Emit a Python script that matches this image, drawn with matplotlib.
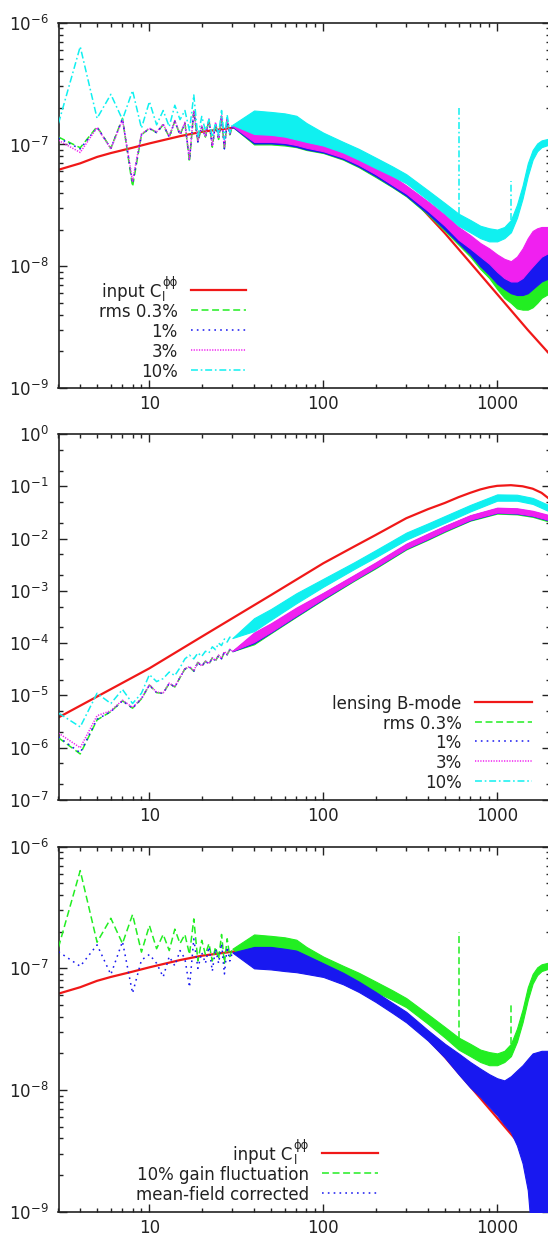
import numpy as np
import matplotlib
matplotlib.use('Agg')
import matplotlib.pyplot as plt
from matplotlib.ticker import FixedLocator, NullFormatter, FuncFormatter

plt.rcParams['font.family'] = ['DejaVu Sans']
plt.rcParams['mathtext.fontset'] = 'dejavusans'
plt.rcParams['lines.scale_dashes'] = False

# ---------------- data: panel 1 (lensing potential, gain rms) ----------------
ell_theory = [3, 4, 5, 6, 8, 10, 15, 20, 30, 40, 60, 80, 100, 150, 200, 300, 500, 700, 1000, 1500, 2000]
clpp_input = [6.2e-8, 7.0e-8, 7.9e-8, 8.5e-8, 9.4e-8, 1.02e-7, 1.17e-7, 1.27e-7, 1.37e-7, 1.42e-7,
              1.36e-7, 1.2e-7, 1.03e-7, 8.0e-8, 6.2e-8, 4.1e-8, 1.87e-8, 1.07e-8, 5.9e-9, 3.0e-9, 1.9e-9]

ell_low = list(range(3, 31))
p1_rms03_low = [1.15e-7, 9.4e-8, 1.4e-7, 9.3e-8, 1.64e-7, 4.5e-8, 1.2e-7, 1.36e-7, 1.25e-7, 1.45e-7,
                1.15e-7, 1.55e-7, 1.2e-7, 1.5e-7, 7.2e-8, 1.9e-7, 1.05e-7, 1.4e-7, 1.15e-7, 1.6e-7,
                9.5e-8, 1.5e-7, 1.1e-7, 1.7e-7, 9.0e-8, 1.6e-7, 1.2e-7, 1.4e-7]
p1_rms1_low = [1.13e-7, 9.2e-8, 1.38e-7, 9.3e-8, 1.62e-7, 4.8e-8, 1.2e-7, 1.35e-7, 1.25e-7, 1.45e-7,
               1.15e-7, 1.55e-7, 1.2e-7, 1.5e-7, 7.4e-8, 1.88e-7, 1.05e-7, 1.4e-7, 1.15e-7, 1.6e-7,
               9.5e-8, 1.5e-7, 1.1e-7, 1.7e-7, 9.2e-8, 1.6e-7, 1.2e-7, 1.4e-7]
p1_rms3_low = [1.08e-7, 8.6e-8, 1.38e-7, 9.2e-8, 1.6e-7, 5.0e-8, 1.22e-7, 1.36e-7, 1.27e-7, 1.47e-7,
               1.17e-7, 1.57e-7, 1.22e-7, 1.52e-7, 7.6e-8, 1.9e-7, 1.07e-7, 1.42e-7, 1.17e-7, 1.62e-7,
               9.7e-8, 1.52e-7, 1.12e-7, 1.72e-7, 9.4e-8, 1.62e-7, 1.22e-7, 1.42e-7]
p1_rms10_low = [1.49e-7, 6.36e-7, 1.64e-7, 2.58e-7, 1.6e-7, 2.77e-7, 1.36e-7, 2.25e-7, 1.45e-7, 1.9e-7,
                1.4e-7, 2.1e-7, 1.6e-7, 1.9e-7, 1.3e-7, 2.55e-7, 1.15e-7, 1.7e-7, 1.3e-7, 1.6e-7,
                1.15e-7, 1.5e-7, 1.2e-7, 1.9e-7, 1.1e-7, 1.75e-7, 1.25e-7, 1.45e-7]

ell_band = [30, 40, 50, 60, 70, 80, 100, 130, 160, 200, 250, 300, 400, 500, 600, 700, 800, 900,
            1000, 1100, 1200, 1300, 1400, 1500, 1600, 1700, 1800, 2000]
p1_rms03_lo = [1.4e-7, 1.0e-7, 1.0e-7, 9.8e-8, 9.5e-8, 9.0e-8, 8.5e-8, 7.5e-8, 6.5e-8, 5.4e-8, 4.45e-8, 3.75e-8,
               2.65e-8, 1.95e-8, 1.5e-8, 1.2e-8, 9.5e-9, 8.0e-9, 6.5e-9, 5.5e-9, 5.0e-9, 4.5e-9, 4.4e-9,
               4.4e-9, 4.6e-9, 5.0e-9, 5.5e-9, 6.0e-9]
p1_rms03_hi = [1.4e-7, 1.65e-7, 1.65e-7, 1.6e-7, 1.5e-7, 1.35e-7, 1.14e-7, 9.3e-8, 7.9e-8, 6.5e-8, 5.3e-8, 4.4e-8,
               3.15e-8, 2.4e-8, 1.95e-8, 1.6e-8, 1.35e-8, 1.2e-8, 1.05e-8, 9.5e-9, 9.0e-9, 9.5e-9, 1.05e-8,
               1.15e-8, 1.3e-8, 1.4e-8, 1.5e-8, 1.6e-8]
p1_rms1_lo = [1.4e-7, 1.02e-7, 1.02e-7, 1.0e-7, 9.6e-8, 9.1e-8, 8.6e-8, 7.6e-8, 6.6e-8, 5.5e-8, 4.5e-8, 3.8e-8,
              2.7e-8, 2.0e-8, 1.55e-8, 1.25e-8, 1.0e-8, 8.5e-9, 7.2e-9, 6.5e-9, 6.0e-9, 5.8e-9, 5.8e-9,
              6.0e-9, 6.5e-9, 7.0e-9, 7.5e-9, 8.0e-9]
p1_rms1_hi = [1.4e-7, 1.6e-7, 1.6e-7, 1.55e-7, 1.48e-7, 1.33e-7, 1.13e-7, 9.3e-8, 7.9e-8, 6.5e-8, 5.3e-8, 4.4e-8,
              3.2e-8, 2.45e-8, 2.0e-8, 1.7e-8, 1.45e-8, 1.3e-8, 1.15e-8, 1.05e-8, 1.0e-8, 1.1e-8, 1.2e-8,
              1.35e-8, 1.5e-8, 1.6e-8, 1.65e-8, 1.7e-8]
p1_rms3_lo = [1.42e-7, 1.05e-7, 1.05e-7, 1.03e-7, 9.9e-8, 9.4e-8, 8.8e-8, 7.8e-8, 6.8e-8, 5.7e-8, 4.65e-8, 3.95e-8,
              2.85e-8, 2.15e-8, 1.65e-8, 1.4e-8, 1.2e-8, 1.05e-8, 9.0e-9, 8.0e-9, 7.5e-9, 7.5e-9, 8.0e-9,
              9.0e-9, 1.0e-8, 1.1e-8, 1.2e-8, 1.3e-8]
p1_rms3_hi = [1.42e-7, 1.55e-7, 1.55e-7, 1.52e-7, 1.45e-7, 1.32e-7, 1.14e-7, 9.5e-8, 8.1e-8, 6.7e-8, 5.5e-8, 4.6e-8,
              3.4e-8, 2.65e-8, 2.1e-8, 1.8e-8, 1.55e-8, 1.4e-8, 1.25e-8, 1.15e-8, 1.1e-8, 1.2e-8, 1.4e-8,
              1.7e-8, 1.95e-8, 2.05e-8, 2.1e-8, 2.1e-8]
p1_rms10_lo = [1.45e-7, 1.22e-7, 1.2e-7, 1.16e-7, 1.1e-7, 1.05e-7, 9.8e-8, 8.6e-8, 7.5e-8, 6.4e-8, 5.5e-8, 4.8e-8,
               3.5e-8, 2.7e-8, 2.15e-8, 1.9e-8, 1.7e-8, 1.6e-8, 1.6e-8, 1.7e-8, 1.9e-8, 2.5e-8, 3.6e-8,
               5.5e-8, 7.5e-8, 8.8e-8, 9.5e-8, 1.0e-7]
p1_rms10_hi = [1.45e-7, 1.9e-7, 1.85e-7, 1.8e-7, 1.72e-7, 1.5e-7, 1.25e-7, 1.05e-7, 9.2e-8, 7.8e-8, 6.6e-8, 5.7e-8,
               4.2e-8, 3.3e-8, 2.7e-8, 2.4e-8, 2.15e-8, 2.05e-8, 2.0e-8, 2.1e-8, 2.4e-8, 3.2e-8, 4.6e-8,
               7.0e-8, 9.0e-8, 1.02e-7, 1.08e-7, 1.12e-7]
spike_ell = [600, 1200]
spike_bottom = [2.7e-8, 2.4e-8]
spike_top = [2.0e-7, 5.0e-8]

# ---------------- data: panel 2 (lensing B-mode) ----------------
ell_bb = [3, 5, 10, 20, 50, 100, 150, 200, 300, 400, 500, 600, 700, 800, 900, 1000, 1200, 1400, 1600, 1800, 2000]
clbb_input = [3.8e-6, 9.5e-6, 3.3e-5, 1.33e-4, 8.3e-4, 3.37e-3, 7.0e-3, 1.17e-2, 2.45e-2, 3.65e-2, 4.8e-2,
              6.2e-2, 7.5e-2, 8.7e-2, 9.6e-2, 1.02e-1, 1.05e-1, 1.0e-1, 9.0e-2, 7.5e-2, 5.7e-2]
p2_rms03_low = [1.55e-6, 7.6e-7, 3.4e-6, 4.9e-6, 7.9e-6, 5.7e-6, 8.6e-6, 1.58e-5, 1.13e-5, 1.1e-5,
                1.7e-5, 1.45e-5, 2.2e-5, 3.2e-5, 3.5e-5, 2.9e-5, 4.3e-5, 3.6e-5, 4.5e-5, 4.0e-5,
                5.2e-5, 4.6e-5, 5.8e-5, 5.0e-5, 6.8e-5, 6.0e-5, 7.5e-5, 7.0e-5]
p2_rms1_low = [1.6e-6, 8.0e-7, 3.5e-6, 4.9e-6, 7.9e-6, 5.7e-6, 8.6e-6, 1.58e-5, 1.13e-5, 1.1e-5,
               1.7e-5, 1.45e-5, 2.2e-5, 3.2e-5, 3.5e-5, 2.9e-5, 4.3e-5, 3.6e-5, 4.5e-5, 4.0e-5,
               5.2e-5, 4.6e-5, 5.8e-5, 5.0e-5, 6.8e-5, 6.0e-5, 7.5e-5, 7.0e-5]
p2_rms3_low = [1.9e-6, 1.0e-6, 4.1e-6, 5.1e-6, 8.1e-6, 5.9e-6, 8.8e-6, 1.6e-5, 1.15e-5, 1.12e-5,
               1.72e-5, 1.47e-5, 2.25e-5, 3.25e-5, 3.55e-5, 2.95e-5, 4.35e-5, 3.65e-5, 4.55e-5, 4.05e-5,
               5.25e-5, 4.65e-5, 5.9e-5, 5.1e-5, 6.9e-5, 6.1e-5, 7.6e-5, 7.1e-5]
p2_rms10_low = [4.6e-6, 2.5e-6, 1.1e-5, 7.0e-6, 1.3e-5, 7.0e-6, 1.1e-5, 2.5e-5, 1.84e-5, 2.1e-5,
                2.8e-5, 2.4e-5, 3.4e-5, 5.0e-5, 5.9e-5, 5.0e-5, 6.5e-5, 5.6e-5, 7.0e-5, 6.5e-5,
                8.5e-5, 7.5e-5, 1.0e-4, 9.0e-5, 1.2e-4, 1.05e-4, 1.3e-4, 1.25e-4]
ell_band2 = [30, 40, 50, 70, 100, 150, 200, 300, 400, 500, 700, 1000, 1300, 1600, 2000]
p2_rms03_lo = [7.0e-5, 9.5e-5, 1.55e-4, 3.2e-4, 6.8e-4, 1.55e-3, 2.7e-3, 6.2e-3, 9.5e-3, 1.35e-2, 2.2e-2,
               3.0e-2, 2.9e-2, 2.6e-2, 2.1e-2]
p2_rms03_hi = [7.0e-5, 1.5e-4, 2.25e-4, 4.5e-4, 8.8e-4, 1.9e-3, 3.3e-3, 7.6e-3, 1.2e-2, 1.7e-2, 2.7e-2,
               3.7e-2, 3.6e-2, 3.2e-2, 2.65e-2]
p2_rms1_lo = [7.0e-5, 1.0e-4, 1.6e-4, 3.3e-4, 7.0e-4, 1.6e-3, 2.8e-3, 6.4e-3, 9.8e-3, 1.4e-2, 2.25e-2,
              3.1e-2, 3.0e-2, 2.7e-2, 2.2e-2]
p2_rms1_hi = [7.0e-5, 1.5e-4, 2.3e-4, 4.6e-4, 9.0e-4, 1.95e-3, 3.4e-3, 7.8e-3, 1.22e-2, 1.72e-2, 2.75e-2,
              3.8e-2, 3.7e-2, 3.3e-2, 2.7e-2]
p2_rms3_lo = [7.1e-5, 1.05e-4, 1.65e-4, 3.4e-4, 7.2e-4, 1.62e-3, 2.85e-3, 6.5e-3, 1.0e-2, 1.42e-2, 2.3e-2,
              3.15e-2, 3.05e-2, 2.75e-2, 2.25e-2]
p2_rms3_hi = [7.1e-5, 1.6e-4, 2.4e-4, 4.8e-4, 9.2e-4, 2.0e-3, 3.5e-3, 8.0e-3, 1.25e-2, 1.75e-2, 2.8e-2,
              3.9e-2, 3.8e-2, 3.4e-2, 2.8e-2]
p2_rms10_lo = [1.25e-4, 1.7e-4, 2.8e-4, 5.8e-4, 1.2e-3, 2.6e-3, 4.4e-3, 9.5e-3, 1.45e-2, 2.0e-2, 3.3e-2,
               5.3e-2, 5.3e-2, 4.6e-2, 3.3e-2]
p2_rms10_hi = [1.25e-4, 3.0e-4, 4.5e-4, 9.0e-4, 1.7e-3, 3.5e-3, 6.0e-3, 1.3e-2, 1.95e-2, 2.7e-2, 4.4e-2,
               7.0e-2, 6.9e-2, 6.0e-2, 4.3e-2]

# ---------------- data: panel 3 (mean-field correction) ----------------
p3_gain_lo = [1.45e-7, 1.05e-7, 1.05e-7, 1.03e-7, 1.0e-7, 9.7e-8, 9.3e-8, 8.3e-8, 7.4e-8, 6.4e-8, 5.5e-8, 4.8e-8,
              3.5e-8, 2.7e-8, 2.15e-8, 1.9e-8, 1.7e-8, 1.6e-8, 1.6e-8, 1.7e-8, 1.9e-8, 2.5e-8, 3.6e-8,
              5.5e-8, 7.5e-8, 8.8e-8, 9.5e-8, 1.0e-7]
p3_mf_low = [1.37e-7, 1.04e-7, 1.56e-7, 8.9e-8, 1.66e-7, 6.25e-8, 1.17e-7, 1.3e-7, 1.1e-7, 8.5e-8,
             1.25e-7, 1.05e-7, 1.4e-7, 1.2e-7, 7.0e-8, 1.75e-7, 1.0e-7, 1.35e-7, 1.1e-7, 1.5e-7,
             9.5e-8, 1.45e-7, 1.1e-7, 1.6e-7, 9.0e-8, 1.5e-7, 1.15e-7, 1.35e-7]
p3_mf_lo = [1.35e-7, 1.0e-7, 9.8e-8, 9.5e-8, 9.3e-8, 9.0e-8, 8.5e-8, 7.4e-8, 6.4e-8, 5.3e-8, 4.3e-8, 3.6e-8,
            2.55e-8, 1.85e-8, 1.35e-8, 1.05e-8, 8.8e-9, 7.3e-9, 6.2e-9, 5.2e-9, 4.5e-9, 3.5e-9, 2.5e-9,
            1.5e-9, 5e-10, 3e-10, 3e-10, 3e-10]
p3_mf_hi = [1.35e-7, 1.5e-7, 1.5e-7, 1.45e-7, 1.4e-7, 1.28e-7, 1.1e-7, 9.2e-8, 7.8e-8, 6.4e-8, 5.2e-8, 4.4e-8,
            3.1e-8, 2.4e-8, 2.0e-8, 1.7e-8, 1.5e-8, 1.35e-8, 1.25e-8, 1.2e-8, 1.3e-8, 1.45e-8, 1.6e-8,
            1.8e-8, 2.0e-8, 2.05e-8, 2.1e-8, 2.1e-8]

# ---------------- styles ----------------
RED, GREEN, BLUE, MAGENTA, CYAN = '#f01818', '#22ee22', '#1818f0', '#f020f0', '#10f0f0'
DASH = (5.0, 2.6)
DOT = (1.2, 3.0)
FINEDOT = (0.9, 1.0)
DASHDOT = (5.0, 2.0, 1.2, 2.0)
LW = 1.1
FS = 12
INK = '#222222'

W, H = 548, 1241
fig = plt.figure(figsize=(W / 100, H / 100), dpi=100)

def px_axes(top, bottom, left=58.5, right=549.5):
    return fig.add_axes([left / W, 1 - bottom / H, (right - left) / W, (bottom - top) / H])

ax1 = px_axes(22.7, 388.0)
ax2 = px_axes(434.0, 800.0)
ax3 = px_axes(846.7, 1211.7)

def noisy(ax, ell_l, val_l, ell_b, lo, hi, color, dashes, z):
    ax.fill_between(ell_b, lo, hi, color=color, lw=0.8, edgecolor=color, zorder=z)
    ax.plot(ell_l, val_l, color=color, lw=LW, dashes=dashes, zorder=z + 0.5)

# panel 1
ax1.plot(ell_theory, clpp_input, color=RED, lw=1.6, zorder=2)
noisy(ax1, ell_low, p1_rms03_low, ell_band, p1_rms03_lo, p1_rms03_hi, GREEN, DASH, 3)
noisy(ax1, ell_low, p1_rms1_low, ell_band, p1_rms1_lo, p1_rms1_hi, BLUE, DOT, 4)
noisy(ax1, ell_low, p1_rms3_low, ell_band, p1_rms3_lo, p1_rms3_hi, MAGENTA, FINEDOT, 5)
noisy(ax1, ell_low, p1_rms10_low, ell_band, p1_rms10_lo, p1_rms10_hi, CYAN, DASHDOT, 6)
ax1.vlines(spike_ell, spike_bottom, spike_top, color=CYAN, lw=LW, linestyles=[(0, DASHDOT)], zorder=6)

# panel 2
ax2.plot(ell_bb, clbb_input, color=RED, lw=1.6, zorder=2)
noisy(ax2, ell_low, p2_rms03_low, ell_band2, p2_rms03_lo, p2_rms03_hi, GREEN, DASH, 3)
noisy(ax2, ell_low, p2_rms1_low, ell_band2, p2_rms1_lo, p2_rms1_hi, BLUE, DOT, 4)
noisy(ax2, ell_low, p2_rms3_low, ell_band2, p2_rms3_lo, p2_rms3_hi, MAGENTA, FINEDOT, 5)
noisy(ax2, ell_low, p2_rms10_low, ell_band2, p2_rms10_lo, p2_rms10_hi, CYAN, DASHDOT, 6)

# panel 3
ax3.plot(ell_theory, clpp_input, color=RED, lw=1.6, zorder=2)
noisy(ax3, ell_low, p1_rms10_low, ell_band, p3_gain_lo, p1_rms10_hi, GREEN, DASH, 3)
ax3.vlines(spike_ell, spike_bottom, spike_top, color=GREEN, lw=LW, linestyles=[(0, DASH)], zorder=3)
noisy(ax3, ell_low, p3_mf_low, ell_band, p3_mf_lo, p3_mf_hi, BLUE, DOT, 4)

# axes formatting
xmajor = [10, 100, 1000]
xminor = [3, 4, 5, 6, 7, 8, 9, 20, 30, 40, 50, 60, 70, 80, 90,
          200, 300, 400, 500, 600, 700, 800, 900, 2000]

def sci(v, pos):
    return r'$\mathregular{10^{%d}}$' % int(round(np.log10(v)))

for ax, (ymin, ymax) in [(ax1, (1e-9, 1e-6)), (ax2, (1e-7, 1e0)), (ax3, (1e-9, 1e-6))]:
    ax.set_xscale('log')
    ax.set_yscale('log')
    ax.set_xlim(3, 2000)
    ax.set_ylim(ymin, ymax)
    ax.xaxis.set_major_locator(FixedLocator(xmajor))
    ax.xaxis.set_minor_locator(FixedLocator(xminor))
    ax.xaxis.set_major_formatter(FuncFormatter(lambda v, p: '%d' % v))
    ax.xaxis.set_minor_formatter(NullFormatter())
    e0, e1 = int(np.log10(ymin)), int(np.log10(ymax))
    ax.yaxis.set_major_locator(FixedLocator([10.0 ** e for e in range(e0, e1 + 1)]))
    if ax is ax2:
        mins = [m * 10.0 ** e for e in range(e0, e1) for m in (2, 5)]
    else:
        mins = [m * 10.0 ** e for e in range(e0, e1) for m in range(2, 10)]
    ax.yaxis.set_minor_locator(FixedLocator(mins))
    ax.yaxis.set_major_formatter(FuncFormatter(sci))
    ax.yaxis.set_minor_formatter(NullFormatter())
    ax.tick_params(which='both', direction='in', top=True, right=True, colors=INK,
                   labelsize=FS, labelcolor=INK)
    ax.tick_params(which='major', length=5.5, width=1.0)
    ax.tick_params(which='minor', length=2.8, width=1.0)
    ax.tick_params(axis='x', pad=5)
    ax.tick_params(axis='y', pad=7)
    for s in ax.spines.values():
        s.set_linewidth(1.2)
        s.set_color(INK)

# keys (gnuplot style: right-justified text, sample to the right)
def key_text(ax, xt, y, label):
    if label == 'PHI':
        # "input C" with subscript l and superscript phi-phi, right edge at xt
        t = ax.text(xt - 0.033, y, 'input C', transform=ax.transAxes, ha='right',
                    va='center_baseline', fontsize=FS, color=INK)
        ax.annotate('l', xy=(1, 0), xycoords=t, xytext=(0.6, -2.5), textcoords='offset points',
                    ha='left', va='bottom', fontsize=8.5, color=INK)
        ax.annotate('\u03d5\u03d5', xy=(1, 1), xycoords=t, xytext=(0.6, -4.5),
                    textcoords='offset points', ha='left', va='bottom', fontsize=8.5, color=INK)
    else:
        ax.text(xt, y, label, transform=ax.transAxes, ha='right', va='center_baseline',
                fontsize=FS, color=INK)

def key(ax, xt, x0, x1, rows):
    for y, label, color, dashes, lw in rows:
        key_text(ax, xt, y, label)
        ln, = ax.plot([x0, x1], [y, y], transform=ax.transAxes, color=color, lw=lw, zorder=10)
        if dashes is not None:
            ln.set_dashes(dashes)

key(ax1, 0.2423, 0.2689, 0.3814, [
    (0.2683, 'PHI', RED, None, 1.6),
    (0.2135, 'rms 0.3%', GREEN, DASH, LW),
    (0.1588, '1%', BLUE, DOT, LW),
    (0.1040, '3%', MAGENTA, FINEDOT, LW),
    (0.0493, '10%', CYAN, DASHDOT, LW)])
key(ax2, 0.821, 0.8477, 0.9642, [
    (0.2678, 'lensing B-mode', RED, None, 1.6),
    (0.2139, 'rms 0.3%', GREEN, DASH, LW),
    (0.1604, '1%', BLUE, DOT, LW),
    (0.1066, '3%', MAGENTA, FINEDOT, LW),
    (0.0519, '10%', CYAN, DASHDOT, LW)])
key(ax3, 0.5102, 0.5368, 0.6513, [
    (0.1608, 'PHI', RED, None, 1.6),
    (0.1060, '10% gain fluctuation', GREEN, DASH, LW),
    (0.0512, 'mean-field corrected', BLUE, DOT, LW)])

fig.savefig('out.png', dpi=100)
